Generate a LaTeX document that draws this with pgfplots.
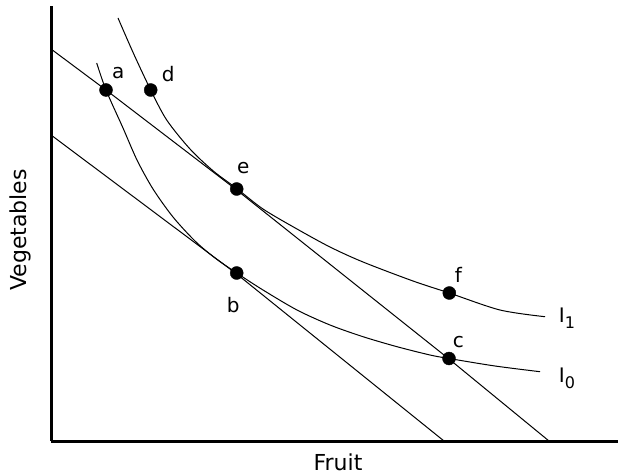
\documentclass[border=0pt]{standalone}
\usepackage{fontspec}
\setmainfont{DejaVu Sans}
\usepackage{pgfplots}
\pgfplotsset{compat=1.18}
\begin{document}
\begin{tikzpicture}[x=1pt,y=1pt]
\path[use as bounding box] (-51,-33) rectangle (567,441);
\begin{axis}[
  at={(0,0)}, anchor=origin,
  scale only axis, width=567pt, height=435pt,
  xmin=0, xmax=567, ymin=0, ymax=435,
  axis lines=left, axis line style={line width=3pt, -},
  xtick=\empty, ytick=\empty,
  clip=false,
]
% budget lines
\addplot[black, line width=1pt] coordinates {(0,392) (55,351) (185.7,251) (398,82) (498,0)};
\addplot[black, line width=1pt] coordinates {(0,306) (185.7,167) (393,0)};
% I1
\addplot[black, line width=1pt, smooth, tension=0.5] coordinates {
(67,423) (82.3,388) (99.7,351) (115.7,321) (139,292) (162.3,270) (185.7,252.5)
(212,232) (246,212) (279,194) (312,179) (362,160) (398.3,148) (449,131) (494,124.3)};
% I0
\addplot[black, line width=1pt, smooth, tension=0.5] coordinates {
(45.7,378) (55,351) (72,313) (86,281) (102,252) (122,224) (144,200) (164,183)
(185.7,168) (212,151) (246,131) (279,116) (312,104.3) (346,94.3) (379,86) (398,82.5) (444,75) (489,69.3)};
% points
\addplot[only marks, mark=*, mark size=6.5pt, black] coordinates {
(55,351) (99.7,351) (185.7,252) (185.7,168) (398.3,148) (398,82.5)};
\begin{scope}[font=\fontsize{20}{20}\selectfont]
\node at (axis cs:67.3,367.7) {a};
\node at (axis cs:117.3,366.7) {d};
\node at (axis cs:192.3,272.7) {e};
\node at (axis cs:182.3,136) {b};
\node at (axis cs:407.3,166) {f};
\node at (axis cs:407.3,99.3) {c};
\node at (axis cs:516,123) {I\raisebox{-6pt}{\fontsize{16}{16}\selectfont 1}};
\node at (axis cs:516,63) {I\raisebox{-6pt}{\fontsize{16}{16}\selectfont 0}};
\end{scope}
\end{axis}
\node[font=\fontsize{22}{22}\selectfont] at (287,-21) {Fruit};
\node[font=\fontsize{22}{22}\selectfont, rotate=90] at (-31,211) {Vegetables};
\end{tikzpicture}
\end{document}
